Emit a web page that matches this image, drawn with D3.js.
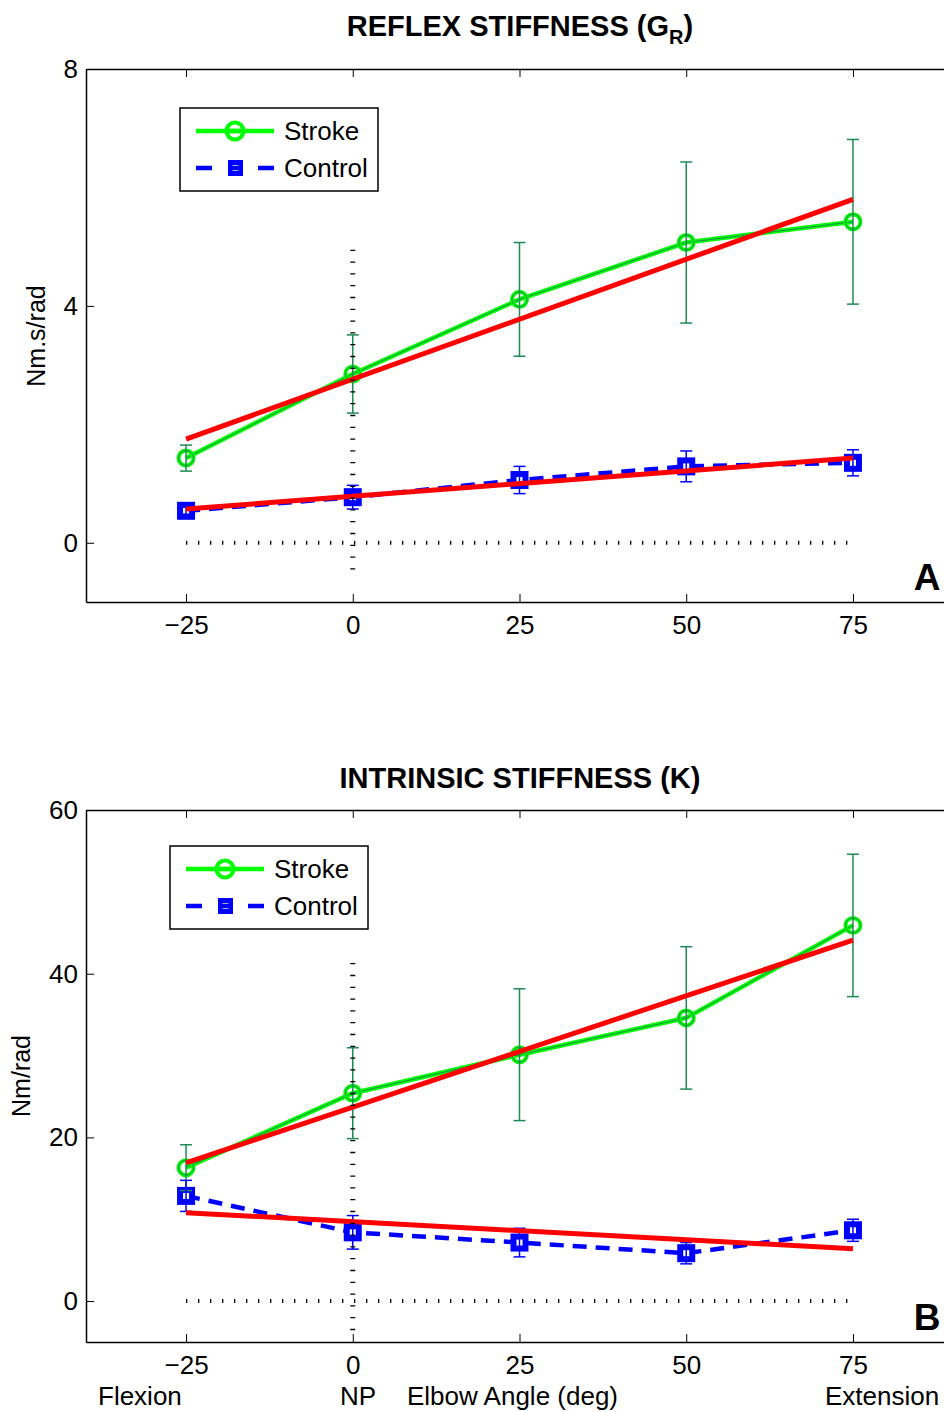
<!DOCTYPE html>
<html><head><meta charset="utf-8">
<script src="https://cdn.jsdelivr.net/npm/d3@7"></script>
<style>body{margin:0;background:#fff} text{font-family:"Liberation Sans",Arial,sans-serif;fill:#000}</style>
</head><body><svg id="c" width="944" height="1412"></svg>
<script>
// ---------- data ----------
const angles = [-25, 0, 25, 50, 75];
const xTicks = [-25, 0, 25, 50, 75];
const fitX = [-25, 75];
// Panel A: reflex stiffness
const reflexTicks = [0, 4, 8];
const reflexStroke = [1.43, 2.85, 4.11, 5.07, 5.42];
const reflexStrokeErr = [0.22, 0.66, 0.96, 1.36, 1.39];
const reflexControl = [0.54, 0.77, 1.06, 1.29, 1.35];
const reflexControlErr = [0.06, 0.20, 0.23, 0.26, 0.22];
const reflexStrokeFit = [1.75, 5.80];
const reflexControlFit = [0.57, 1.43];
// Panel B: intrinsic stiffness
const intrTicks = [0, 20, 40, 60];
const intrStroke = [16.3, 25.4, 30.1, 34.6, 45.9];
const intrStrokeErr = [2.8, 5.55, 8.05, 8.7, 8.7];
const intrControl = [12.85, 8.4, 7.15, 5.85, 8.65];
const intrControlErr = [1.9, 2.05, 1.75, 1.3, 1.35];
const intrStrokeFit = [16.9, 44.1];
const intrControlFit = [10.8, 6.4];
const seriesNames = ["Stroke", "Control"];

// ---------- drawing ----------
const svg = d3.select("#c");
const GREEN = "#00ff00", DKGREEN = "#1e8a55", BLUE = "#0000ff", RED = "#ff0000";
const FONT = "Liberation Sans, Arial, sans-serif";

function panel(cfg) {
  const x = d3.scaleLinear().domain([-40, 90]).range([86, 953]);
  const y = d3.scaleLinear().domain(cfg.ydom).range([cfg.bottom, cfg.top]);
  const g = svg.append("g");
  const clipId = "clip" + cfg.label;
  svg.append("clipPath").attr("id", clipId).append("rect")
    .attr("x", 86).attr("y", cfg.top).attr("width", 867).attr("height", cfg.bottom - cfg.top);
  const pg = g.append("g").attr("clip-path", `url(#${clipId})`);

  const line = d3.line().x((d, i) => x(angles[i])).y(d => y(d));
  // stroke series
  pg.append("path").datum(cfg.stroke).attr("d", line)
    .attr("fill", "none").attr("stroke", GREEN).attr("stroke-width", 4.5);
  pg.append("path").datum(cfg.stroke).attr("d", line)
    .attr("fill", "none").attr("stroke", DKGREEN).attr("stroke-width", 1);
  // control series
  pg.append("path").datum(cfg.control).attr("d", line)
    .attr("fill", "none").attr("stroke", BLUE).attr("stroke-width", 4.5)
    .attr("stroke-dasharray", "14 9");

  // markers
  cfg.stroke.forEach((v, i) => {
    pg.append("circle").attr("cx", x(angles[i])).attr("cy", y(v)).attr("r", 7.5)
      .attr("fill", "none").attr("stroke", GREEN).attr("stroke-width", 4);
    pg.append("circle").attr("cx", x(angles[i])).attr("cy", y(v)).attr("r", 7.5)
      .attr("fill", "none").attr("stroke", DKGREEN).attr("stroke-width", 1);
  });
  cfg.control.forEach((v, i) => {
    pg.append("rect").attr("x", x(angles[i]) - 6).attr("y", y(v) - 6)
      .attr("width", 12).attr("height", 12)
      .attr("fill", "#fff").attr("stroke", BLUE).attr("stroke-width", 6);
  });

  // error bars
  function errBars(vals, errs, color) {
    vals.forEach((v, i) => {
      const cx = x(angles[i]), y1 = y(v + errs[i]), y2 = y(v - errs[i]);
      pg.append("line").attr("x1", cx).attr("x2", cx).attr("y1", y1).attr("y2", y2)
        .attr("stroke", color).attr("stroke-width", 1.5);
      [y1, y2].forEach(yy => pg.append("line").attr("x1", cx - 6).attr("x2", cx + 6)
        .attr("y1", yy).attr("y2", yy).attr("stroke", color).attr("stroke-width", 1.5));
    });
  }
  errBars(cfg.stroke, cfg.strokeErr, DKGREEN);
  errBars(cfg.control, cfg.controlErr, BLUE);

  // regression fits
  [cfg.strokeFit, cfg.controlFit].forEach(f => {
    pg.append("line").attr("x1", x(fitX[0])).attr("x2", x(fitX[1]))
      .attr("y1", y(f[0])).attr("y2", y(f[1]))
      .attr("stroke", RED).attr("stroke-width", 5);
  });

  // dotted reference lines (rows of tick marks)
  pg.append("line").attr("x1", x(-25)).attr("x2", x(75)).attr("y1", y(0)).attr("y2", y(0))
    .attr("stroke", "#000").attr("stroke-width", 4).attr("stroke-dasharray", "1.3 10.7");
  pg.append("line").attr("x1", x(0)).attr("x2", x(0)).attr("y1", y(cfg.vTop)).attr("y2", y(cfg.vBot))
    .attr("stroke", "#000").attr("stroke-width", 5).attr("stroke-dasharray", "1.3 10.5");

  // axes box
  g.append("g").attr("transform", `translate(0,${cfg.bottom})`)
    .call(d3.axisBottom(x).tickValues(xTicks).tickSizeInner(-8).tickSizeOuter(0).tickPadding(14)
      .tickFormat(d => d < 0 ? "\u2212" + Math.abs(d) : d))
    .call(a => { a.select(".domain").attr("stroke-width", 1.5);
      a.selectAll("text").attr("font-size", 26).attr("font-family", FONT); });
  g.append("g").attr("transform", `translate(0,${cfg.top})`)
    .call(d3.axisTop(x).tickValues(xTicks).tickSizeInner(-8).tickSizeOuter(0).tickFormat(""))
    .call(a => a.select(".domain").attr("stroke-width", 1.5));
  g.append("g").attr("transform", `translate(86,0)`)
    .call(d3.axisLeft(y).tickValues(cfg.ticks).tickSizeInner(-8).tickSizeOuter(0).tickPadding(8))
    .call(a => { a.select(".domain").attr("stroke-width", 1.5);
      a.selectAll("text").attr("font-size", 26).attr("font-family", FONT); });

  // title
  const t = g.append("text").attr("x", 520).attr("y", cfg.titleY).attr("text-anchor", "middle")
    .attr("font-size", 29).attr("font-weight", "bold");
  t.append("tspan").text(cfg.title);
  if (cfg.sub) {
    t.append("tspan").attr("font-size", 20).attr("dy", 8).text(cfg.sub);
    t.append("tspan").attr("dy", -8).text(")");
  }
  // y label
  g.append("text").attr("transform", `translate(${cfg.ylx},${cfg.yly}) rotate(-90)`)
    .attr("text-anchor", "middle").attr("font-size", 25).text(cfg.ylabel);
  // panel letter
  g.append("text").attr("x", 927).attr("y", cfg.bottom - 12).attr("text-anchor", "middle")
    .attr("font-size", 37).attr("font-weight", "bold").text(cfg.label);

  // legend
  const L = cfg.legend;
  g.append("rect").attr("x", L.x).attr("y", L.y).attr("width", 198).attr("height", 83)
    .attr("fill", "#fff").attr("stroke", "#000").attr("stroke-width", 1.5);
  const r1 = L.y + 23, r2 = L.y + 60;
  g.append("line").attr("x1", L.x + 16).attr("x2", L.x + 94).attr("y1", r1).attr("y2", r1)
    .attr("stroke", GREEN).attr("stroke-width", 4.5);
  g.append("circle").attr("cx", L.x + 55).attr("cy", r1).attr("r", 8.5)
    .attr("fill", "none").attr("stroke", GREEN).attr("stroke-width", 4);
  g.append("line").attr("x1", L.x + 47).attr("x2", L.x + 63).attr("y1", r1).attr("y2", r1)
    .attr("stroke", GREEN).attr("stroke-width", 4.5);
  g.append("line").attr("x1", L.x + 16).attr("x2", L.x + 94).attr("y1", r2).attr("y2", r2)
    .attr("stroke", BLUE).attr("stroke-width", 4.5).attr("stroke-dasharray", "16 23 0 23 16");
  g.append("rect").attr("x", L.x + 48).attr("y", r2 - 8).attr("width", 15).attr("height", 16)
    .attr("fill", BLUE);
  [r2 - 2.5, r2 + 2.5].forEach(yy => g.append("line").attr("x1", L.x + 52.5).attr("x2", L.x + 58.5)
    .attr("y1", yy).attr("y2", yy).attr("stroke", "#aab").attr("stroke-width", 1));
  g.append("text").attr("x", L.x + 104).attr("y", r1 + 9).attr("font-size", 26).text(seriesNames[0]);
  g.append("text").attr("x", L.x + 104).attr("y", r2 + 9).attr("font-size", 26).text(seriesNames[1]);
}

panel({ label: "A", top: 69, bottom: 602, ydom: [-1, 8], ticks: reflexTicks,
  stroke: reflexStroke, strokeErr: reflexStrokeErr, control: reflexControl, controlErr: reflexControlErr,
  strokeFit: reflexStrokeFit, controlFit: reflexControlFit, vTop: 4.95, vBot: -0.5,
  title: "REFLEX STIFFNESS (G", sub: "R", titleY: 36, ylabel: "Nm.s/rad", ylx: 45, yly: 336,
  legend: { x: 180, y: 108 } });
panel({ label: "B", top: 810, bottom: 1342, ydom: [-5, 60], ticks: intrTicks,
  stroke: intrStroke, strokeErr: intrStrokeErr, control: intrControl, controlErr: intrControlErr,
  strokeFit: intrStrokeFit, controlFit: intrControlFit, vTop: 41.3, vBot: -4.6,
  title: "INTRINSIC STIFFNESS (K)", sub: null, titleY: 788, ylabel: "Nm/rad", ylx: 30, yly: 1076,
  legend: { x: 170, y: 846 } });

// bottom axis annotations
const bottomNotes = [["Flexion", 98], ["NP", 340], ["Elbow Angle (deg)", 407], ["Extension", 825]];
svg.selectAll("text.note").data(bottomNotes).enter().append("text").attr("class", "note")
  .attr("x", d => d[1]).attr("y", 1405).attr("font-size", 26).text(d => d[0]);
</script></body></html>
